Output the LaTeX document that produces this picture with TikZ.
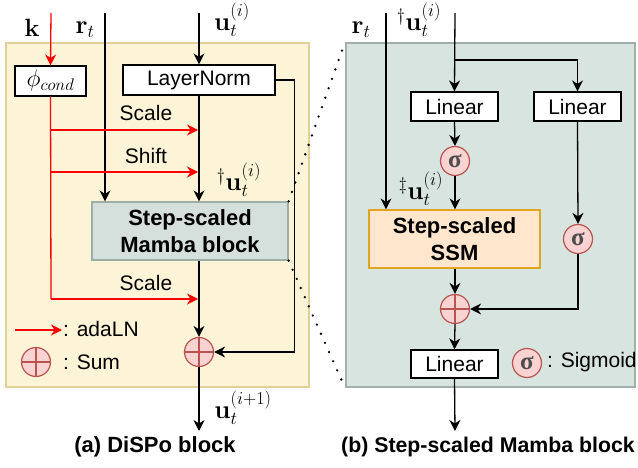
\documentclass[tikz,border=0pt]{standalone}
\usepackage{fix-cm}
\usepackage{amsmath}
\usepackage[no-math]{fontspec}
\setmainfont{Liberation Sans}
\newfontfamily\sigfont{Liberation Serif}
\usetikzlibrary{arrows.meta}
\definecolor{yfill}{HTML}{FDF3D6}
\definecolor{ydraw}{HTML}{E3CF98}
\definecolor{gfill}{HTML}{D8E4E0}
\definecolor{gdraw}{HTML}{A3AFAA}
\definecolor{mfill}{HTML}{D5DFDB}
\definecolor{mdraw}{HTML}{9DADA8}
\definecolor{sfill}{HTML}{FFE6CC}
\definecolor{sdraw}{HTML}{E0A520}
\definecolor{cfill}{HTML}{F8D3D1}
\definecolor{cdraw}{HTML}{B85450}
\definecolor{sigcol}{HTML}{4D4D4D}
\newcommand{\fs}{\fontsize{21}{24}\selectfont}
\newcommand{\fm}{\fontsize{26}{30}\selectfont}
\newcommand{\fb}{\fontsize{22}{25}\selectfont\bfseries}
\begin{document}
\begin{tikzpicture}[x=1pt,y=-1pt,
  txt/.style={font=\fs, inner sep=0pt},
  mlab/.style={font=\fm, inner sep=0pt},
  bx/.style={draw=black, fill=white, line width=1.2pt, inner sep=0pt, font=\fs},
  sumc/.style={circle, draw=cdraw, fill=cfill, minimum size=29pt, inner sep=0pt, line width=1.2pt},
  sigc/.style={circle, draw=cdraw, fill=cfill, minimum size=29pt, inner sep=0pt, line width=1.2pt, text=sigcol, font=\fontsize{25}{25}\sigfont\bfseries},
  arr/.style={-{Stealth[length=11pt,width=11pt,inset=3.5pt]}, line width=1.3pt},
  redarr/.style={arr, draw=red, color=red},
  dots/.style={line width=2.6pt, line cap=round, dash pattern=on 0pt off 10pt}
]
\useasboundingbox (0,0) rectangle (638,468);
% panels
\node[draw=ydraw, fill=yfill, line width=2pt, minimum width=303pt, minimum height=344pt, inner sep=0pt] (ypanel) at (157.5,215) {};
\node[draw=gdraw, fill=gfill, line width=2pt, minimum width=289pt, minimum height=344pt, inner sep=0pt] (gpanel) at (490.5,215) {};

% left panel nodes
\node[bx, minimum width=71pt, minimum height=30pt, font=\fontsize{24}{26}\selectfont] (phi) at (50.5,81) {$\phi_{cond}$};
\node[bx, minimum width=152pt, minimum height=30pt] (ln) at (199,80) {LayerNorm};
\node[draw=mdraw, fill=mfill, line width=1.2pt, minimum width=196pt, minimum height=58pt, inner sep=0pt, align=center, font=\fb] (mamba) at (190,231) {Step-scaled\\[2pt]Mamba block};
\node[sumc] (sum1) at (199,352) {};
\draw[cdraw, line width=1.2pt] (sum1.north) -- (sum1.south) (sum1.west) -- (sum1.east);

% top inputs left
\coordinate (ktop) at (51,13);
\coordinate (rtop) at (105,13);
\coordinate (utop) at (199,13);
\node[inner sep=0pt, font=\fontsize{25}{27}\selectfont] (klab) at (32,28) {$\mathbf{k}$};
\node[mlab] (rlab) at (85,30) {$\mathbf{r}_t$};
\node[mlab] (ulab) at (232,20) {$\mathbf{u}_t^{(i)}$};

\draw[redarr] (ktop) -- (phi.north);
\draw[arr] (rtop) -- (rtop |- mamba.north);
\draw[arr] (utop) -- (ln.north);
\draw[arr] (ln.south) -- (ln.south |- mamba.north);
\draw[arr] (sum1.north |- mamba.south) -- (sum1.north);
\draw[arr] (ln.east) -- ++(19,0) |- (sum1.east);
\coordinate (out1) at (199,431);
\draw[arr] (sum1.south) -- (out1);
\node[mlab] (u2lab) at (243,408) {$\mathbf{u}_t^{(i+1)}$};
\node[mlab] (udag) at (239,180) {${}^\dagger\mathbf{u}_t^{(i)}$};

% red adaLN arrows
\coordinate (j1) at (51,130);
\coordinate (j2) at (51,172);
\coordinate (j3) at (51,299);
\coordinate (e1) at (198,130);
\coordinate (e2) at (198,172);
\coordinate (e3) at (198,299);
\draw[red, line width=1.3pt] (phi.south) -- (j3);
\draw[redarr] (j1) -- (e1);
\draw[redarr] (j2) -- (e2);
\draw[redarr] (j3) -- (e3);
\node[txt] (sc1) at (146,113) {Scale};
\node[txt] (sh1) at (146,156) {Shift};
\node[txt] (sc2) at (146,283) {Scale};

% legend left
\coordinate (la1) at (15,330);
\coordinate (la2) at (62,330);
\draw[redarr] (la1) -- (la2);
\node[txt, anchor=west] (adaln) at (63,329) {: adaLN};
\node[sumc] (sumleg) at (36,362) {};
\draw[cdraw, line width=1.2pt] (sumleg.north) -- (sumleg.south) (sumleg.west) -- (sumleg.east);
\node[txt, anchor=west] (sumtxt) at (63,362) {: Sum};

% right panel nodes
\node[bx, minimum width=87pt, minimum height=29pt] (lin1) at (454.5,106.5) {Linear};
\node[bx, minimum width=87pt, minimum height=29pt] (lin2) at (577.5,106.5) {Linear};
\node[sigc] (sig1) at (455,161) {σ};
\node[draw=sdraw, fill=sfill, line width=1.2pt, minimum width=171pt, minimum height=58pt, inner sep=0pt, align=center, font=\fb] (ssm) at (454.5,239) {Step-scaled\\[2pt]SSM};
\node[sigc] (sig2) at (578,239) {σ};
\node[sumc] (sum2) at (455,309) {};
\draw[cdraw, line width=1.2pt] (sum2.north) -- (sum2.south) (sum2.west) -- (sum2.east);
\node[bx, minimum width=87pt, minimum height=28pt] (lin3) at (454.5,364) {Linear};
\node[sigc] (sig3) at (527,363) {σ};
\node[txt, anchor=west] (sigtxt) at (547,362) {: Sigmoid};

\coordinate (rtop2) at (386,13);
\coordinate (utop2) at (455,13);
\coordinate (br) at (455,60);
\node[mlab] (rlab2) at (361,30) {$\mathbf{r}_t$};
\node[mlab] (ulab2) at (419,20) {${}^\dagger\mathbf{u}_t^{(i)}$};
\node[mlab] (ulab3) at (421,189) {${}^\ddagger\mathbf{u}_t^{(i)}$};

\draw[arr] (rtop2) -- (rtop2 |- ssm.north);
\draw[arr] (utop2) -- (lin1.north);
\draw[arr] (br) -| (lin2.north);
\draw[arr] (lin1.south) -- (sig1.north);
\draw[arr] (sig1.south) -- (sig1.south |- ssm.north);
\draw[arr] (lin2.south) -- (sig2.north);
\draw[arr] (sig1.south |- ssm.south) -- (sum2.north);
\draw[arr] (sig2.south) |- (sum2.east);
\draw[arr] (sum2.south) -- (lin3.north);
\coordinate (out2) at (455,431);
\draw[arr] (lin3.south) -- (out2);

% zoom dots
\draw[dots] (mamba.north east) -- (gpanel.north west);
\draw[dots] (mamba.south east) -- (gpanel.south west);

% captions
\node[txt, font=\fb] (capa) at (155,447) {(a) DiSPo block};
\node[txt, font=\fontsize{21.3}{25}\selectfont\bfseries, anchor=west] (capb) at (341,447) {(b) Step-scaled Mamba block};
\end{tikzpicture}
\end{document}
